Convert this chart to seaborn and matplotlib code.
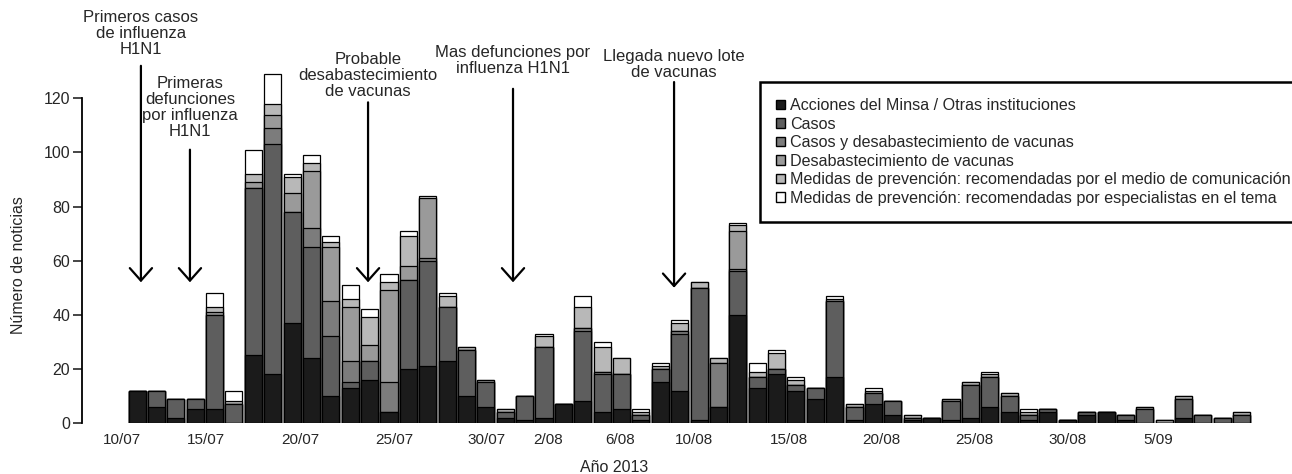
import pandas as pd
import seaborn as sns
import matplotlib.pyplot as plt
from matplotlib.patches import Patch

# Datos (numero de noticias por dia, apiladas)
categorias = [
    'Acciones del Minsa / Otras instituciones',
    'Casos',
    'Casos y desabastecimiento de vacunas',
    'Desabastecimiento de vacunas',
    'Medidas de prevención: recomendadas por el medio de comunicación',
    'Medidas de prevención: recomendadas por especialistas en el tema',
]
acciones = [12, 6, 2, 5, 5, 0, 25, 18, 37, 24, 10, 13, 16, 4, 20, 21, 23, 10, 6, 2,
            1, 2, 7, 8, 4, 5, 1, 15, 12, 1, 6, 40, 13, 18, 12, 9, 17, 1, 7, 3,
            1, 2, 1, 2, 6, 4, 1, 4, 1, 3, 4, 1, 0, 0, 2, 0, 0, 0]
casos = [0, 6, 7, 4, 35, 7, 62, 85, 41, 41, 22, 2, 7, 0, 33, 39, 20, 17, 9, 2,
         9, 26, 0, 26, 14, 13, 2, 5, 21, 49, 0, 16, 4, 2, 2, 4, 28, 5, 4, 5,
         1, 0, 7, 12, 11, 6, 2, 1, 0, 1, 0, 2, 5, 0, 7, 3, 2, 3]
casos_desab = [0, 0, 0, 0, 0, 0, 0, 6, 0, 7, 13, 8, 0, 11, 0, 1, 0, 0, 0, 0,
               0, 0, 0, 1, 1, 0, 0, 0, 1, 0, 16, 1, 0, 0, 0, 0, 0, 0, 0, 0,
               0, 0, 0, 0, 0, 0, 0, 0, 0, 0, 0, 0, 0, 0, 0, 0, 0, 0]
desab = [0, 0, 0, 0, 1, 0, 2, 5, 7, 21, 20, 20, 6, 34, 5, 22, 0, 0, 0, 0,
         0, 0, 0, 0, 0, 0, 0, 0, 0, 0, 0, 14, 0, 0, 0, 0, 0, 0, 0, 0,
         0, 0, 0, 0, 0, 0, 0, 0, 0, 0, 0, 0, 0, 1, 0, 0, 0, 0]
medidas_medio = [0, 0, 0, 0, 2, 1, 3, 4, 6, 3, 2, 3, 10, 3, 11, 0, 4, 1, 1, 1,
                 0, 4, 0, 8, 9, 6, 1, 1, 3, 2, 2, 2, 2, 6, 2, 0, 1, 1, 1, 0,
                 1, 0, 1, 1, 1, 1, 1, 0, 0, 0, 0, 0, 1, 0, 1, 0, 0, 1]
medidas_esp = [0, 0, 0, 0, 5, 4, 9, 11, 1, 3, 2, 5, 3, 3, 2, 1, 1, 0, 0, 0,
               0, 1, 0, 4, 2, 0, 1, 1, 1, 0, 0, 1, 3, 1, 1, 0, 1, 0, 1, 0,
               0, 0, 0, 0, 1, 0, 1, 0, 0, 0, 0, 0, 0, 0, 0, 0, 0, 0]

etiquetas_eje = ['10/07', '15/07', '20/07', '25/07', '30/07', '2/08', '6/08',
                 '10/08', '15/08', '20/08', '25/08', '30/08', '5/09']

eventos = ['Primeros casos\nde influenza\nH1N1',
           'Primeras\ndefunciones\npor influenza\nH1N1',
           'Probable\ndesabastecimiento\nde vacunas',
           'Mas defunciones por\ninfluenza H1N1',
           'Llegada nuevo lote\nde vacunas']

# layout (posiciones en unidades de barra, no son datos)
pos_eje = [-0.77, 3.56, 8.45, 13.3, 18.04, 21.19, 24.95, 28.76, 33.66, 38.4,
           43.2, 48.0, 52.7]
pos_eventos = [0.2, 2.73, 11.92, 19.4, 27.71]
cola_eventos = [132, 101, 118.5, 123.5, 126]
texto_eventos = [144, 116.5, 128.5, 134, 132.5]
punta_eventos = [52, 52, 52, 52, 50]

colores = ['#1b1b1b', '#5e5e5e', '#7c7c7c', '#9a9a9a', '#b8b8b8', '#ffffff']

series = [acciones, casos, casos_desab, desab, medidas_medio, medidas_esp]
fechas = pd.date_range('2013-07-10', periods=len(acciones)).strftime('%d/%m')
df = pd.DataFrame(dict(zip(categorias, series)))
df.insert(0, 'fecha', fechas)
acum = df[categorias].cumsum(axis=1)
acum['fecha'] = df['fecha']

sns.set_style('white')
plt.rcParams['font.family'] = ['Liberation Sans', 'DejaVu Sans']

fig = plt.figure(figsize=(12.92, 4.74), dpi=100)
ax = fig.add_axes([82 / 1292, 51 / 474, 1188 / 1292, 130 * 2.706 / 474])

# capas apiladas: se dibuja el total primero y luego cada suma parcial encima
for cat, color in reversed(list(zip(categorias, colores))):
    sns.barplot(data=acum, x='fecha', y=cat, color=color, saturation=1,
                edgecolor='black', linewidth=0.9, width=0.88, errorbar=None, ax=ax)

ax.set_xlim(-2.84, 58.46)
ax.set_ylim(0, 130)
ax.set_yticks([0, 20, 40, 60, 80, 100, 120])
ax.set_xticks(pos_eje, etiquetas_eje)
ax.tick_params(axis='x', length=0, pad=7, labelsize=11)
ax.tick_params(axis='y', length=6.5, width=1.2, pad=2, labelsize=11.5, left=True)
for s in ['top', 'right', 'bottom']:
    ax.spines[s].set_visible(False)
ax.spines['left'].set_bounds(0, 120)
ax.spines['left'].set_linewidth(1.3)
ax.spines['left'].set_color('black')

ax.set_ylabel('Número de noticias', fontsize=11.5)
ax.yaxis.set_label_coords(-0.047, 0.449)
ax.set_xlabel('Año 2013', fontsize=11.5)
ax.xaxis.set_label_coords(0.448, -0.105)

for txt, x, y0, y1, yt in zip(eventos, pos_eventos, cola_eventos, punta_eventos, texto_eventos):
    ax.annotate('', xy=(x, y1), xytext=(x, y0), annotation_clip=False,
                arrowprops=dict(arrowstyle='->,head_length=0.45,head_width=0.4',
                                lw=1.6, color='black', mutation_scale=20,
                                shrinkA=0, shrinkB=0))
    ax.text(x, yt, txt, ha='center', va='center', fontsize=12, linespacing=1.08,
            clip_on=False)

handles = [Patch(facecolor=c, edgecolor='black', linewidth=1) for c in colores]
leg = ax.legend(handles, categorias, loc='upper left',
                bbox_to_anchor=(760 / 1292, 1 - 82 / 474), bbox_transform=fig.transFigure,
                borderaxespad=0, frameon=True, fancybox=False, edgecolor='black',
                framealpha=1, handlelength=0.55, handleheight=0.55, handletextpad=0.3,
                labelspacing=0.22, borderpad=1.0, fontsize=11.6)
leg.get_frame().set_linewidth(1.8)

fig.savefig('out.png', dpi=100)
